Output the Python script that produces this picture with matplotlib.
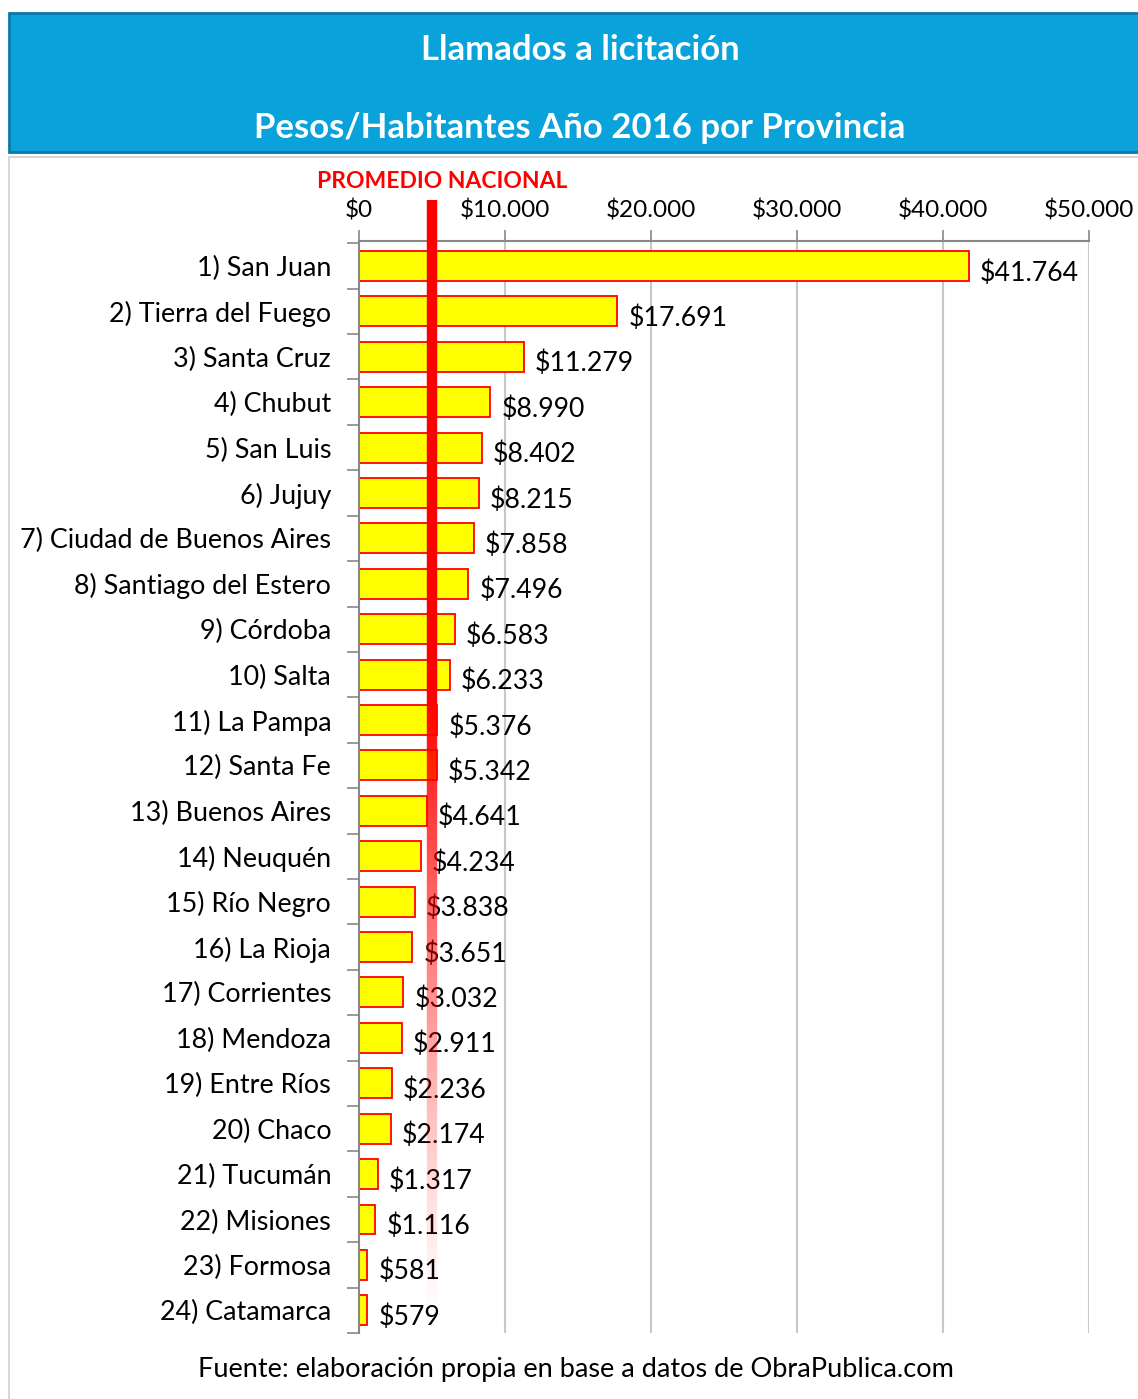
import matplotlib.pyplot as plt
import numpy as np
from matplotlib.collections import LineCollection
from matplotlib.patches import Rectangle

W, H = 1138, 1399

provincias = [
    "1) San Juan", "2) Tierra del Fuego", "3) Santa Cruz", "4) Chubut",
    "5) San Luis", "6) Jujuy", "7) Ciudad de Buenos Aires",
    "8) Santiago del Estero", "9) Córdoba", "10) Salta", "11) La Pampa",
    "12) Santa Fe", "13) Buenos Aires", "14) Neuquén", "15) Río Negro",
    "16) La Rioja", "17) Corrientes", "18) Mendoza", "19) Entre Ríos",
    "20) Chaco", "21) Tucumán", "22) Misiones", "23) Formosa", "24) Catamarca",
]
pesos_hab = [
    41764, 17691, 11279, 8990, 8402, 8215, 7858, 7496, 6583, 6233, 5376,
    5342, 4641, 4234, 3838, 3651, 3032, 2911, 2236, 2174, 1317, 1116, 581, 579,
]
promedio_nacional = 5000
x_ticks = [0, 10000, 20000, 30000, 40000, 50000]

font = "Lato"
plt.rcParams["font.family"] = [font, "DejaVu Sans"]


def fx(px):
    return px / W


def fy(py):
    return 1 - py / H


def pesos(v):
    return "$" + f"{v:,}".replace(",", ".")


fig = plt.figure(figsize=(W / 100, H / 100), dpi=100)

# header and frame
fig.patches.append(Rectangle((fx(9), fy(152)), 1.0, fy(13) - fy(152),
                             transform=fig.transFigure, facecolor="#0AA2DA",
                             edgecolor="#0A78A8", linewidth=2.0, zorder=-2))
fig.patches.append(Rectangle((fx(9), fy(1420)), 1.0, fy(157) - fy(1420),
                             transform=fig.transFigure, facecolor="white",
                             edgecolor="#D0D0D0", linewidth=1.2, zorder=-2))
fig.text(fx(580), fy(50), "Llamados a licitación", color="white",
         fontsize=25, fontweight="bold", ha="center", va="center")
fig.text(fx(580), fy(128), "Pesos/Habitantes Año 2016 por Provincia",
         color="white", fontsize=25, fontweight="bold", ha="center",
         va="center")

ax = fig.add_axes([fx(359), fy(1333), fx(1089) - fx(359), fy(241) - fy(1333)])
ax.set_zorder(1)
ax.patch.set_alpha(0)
y = np.arange(len(provincias))
ax.barh(y, pesos_hab, height=0.66, color="#FFFF00", edgecolor="#FF0000",
        linewidth=1.3, zorder=2)
ax.set_xlim(0, 50000)
ax.set_ylim(len(provincias) - 0.5, -0.55)

ax.xaxis.tick_top()
ax.set_xticks(x_ticks)
ax.set_xticklabels([pesos(v) for v in x_ticks], fontsize=17.5)
ax.tick_params(axis="x", direction="out", length=8, width=1.2,
               color="#888888", pad=6)
ax.grid(axis="x", color="#C8C8C8", linewidth=1.5, zorder=0)

ax.set_yticks(y)
ax.set_yticklabels(provincias, fontsize=19.4)
ax.tick_params(axis="y", length=0, pad=20)
ax.set_yticks(np.arange(-0.5, len(provincias), 1.0), minor=True)
ax.tick_params(axis="y", which="minor", direction="out", length=9,
               width=1.2, color="#888888")

for s in ["right", "bottom"]:
    ax.spines[s].set_visible(False)
ax.spines["left"].set_color("#888888")
ax.spines["left"].set_linewidth(1.5)
ax.spines["top"].set_color("#888888")
ax.spines["top"].set_linewidth(1.5)

for yi, v in zip(y, pesos_hab):
    ax.text(v + 750, yi + 0.15, pesos(v), fontsize=19.2, va="center",
            ha="left", zorder=3)

# promedio nacional line, fading towards the bottom
y_top = -1.45
y_bot = len(provincias) - 0.6
ys = np.linspace(y_top, y_bot, 200)
segs = [[(promedio_nacional, a), (promedio_nacional, b)]
        for a, b in zip(ys[:-1], ys[1:])]
mid = (ys[:-1] + ys[1:]) / 2
alpha = np.clip(1 - (mid - 9.5) / (y_bot - 9.5), 0, 1) ** 1.3
colors = [(1, 0, 0, a) for a in alpha]
lc = LineCollection(segs, colors=colors, linewidths=7.5, zorder=4,
                    clip_on=False, capstyle="butt")
ax.add_collection(lc)

fig.text(fx(442), fy(181), "PROMEDIO NACIONAL", color="#FF0000",
         fontsize=16.5, fontweight="bold", ha="center", va="center")
fig.text(fx(576), fy(1370), "Fuente: elaboración propia en base a datos de "
         "ObraPublica.com", fontsize=19.5, ha="center", va="center")

fig.savefig("out.png", dpi=100)
